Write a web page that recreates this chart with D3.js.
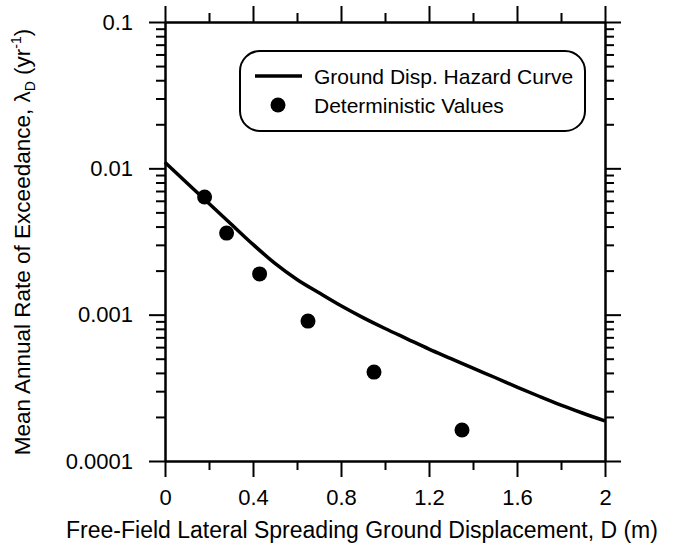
<!DOCTYPE html>
<html>
<head>
  <meta charset="utf-8">
  <script src="https://d3js.org/d3.v7.min.js"></script>
  <style>
    body { margin: 0; background: #fff; }
    text { font-family: "Liberation Sans", Arial, sans-serif; fill: #000; }
  </style>
</head>
<body>
  <svg id="chart" width="688" height="549"></svg>

  <script>
    // Hazard curve
    let curveD      = [0, 0.1, 0.2, 0.3, 0.4, 0.5, 0.6, 0.7, 0.8, 0.9, 1.0, 1.1, 1.2, 1.3, 1.4, 1.5, 1.6, 1.7, 1.8, 1.9, 2.0];
    let curveLambda = [0.0110, 0.00794, 0.00575, 0.00417, 0.00302, 0.00224, 0.00174, 0.00141, 0.00115, 0.000955,
                       0.000804, 0.000684, 0.000582, 0.000501, 0.000431, 0.000372, 0.000320, 0.000277, 0.000241, 0.000212, 0.000188];

    // Deterministic values
    let detD      = [0.18, 0.28, 0.43, 0.65, 0.95, 1.35];
    let detLambda = [0.00637, 0.00361, 0.0019, 0.000904, 0.000405, 0.000163];

    let xTicks = [0, 0.4, 0.8, 1.2, 1.6, 2];
    let xMinor = [0.2, 0.6, 1.0, 1.4, 1.8];
    let yTicks = [0.1, 0.01, 0.001, 0.0001];
    let yTickLabels = ["0.1", "0.01", "0.001", "0.0001"];

    let svg = d3.select("#chart");

    let x = d3.scaleLinear().domain([0, 2]).range([165, 605]);
    let y = d3.scaleLog().domain([0.0001, 0.1]).range([461, 22]);
    let yMinor = y.ticks().filter(v => !yTicks.some(t => Math.abs(t - v) / t < 1e-6));

    function styleAxis(g) {
      g.selectAll("path.domain").attr("stroke", "#000").attr("stroke-width", 2);
      g.selectAll(".tick line").attr("stroke", "#000").attr("stroke-width", 2);
      g.selectAll(".tick text").attr("font-size", 22).attr("fill", "#000")
        .attr("font-family", '"Liberation Sans", Arial, sans-serif');
    }

    // minor ticks first
    svg.append("g").attr("transform", "translate(0,461)")
      .call(d3.axisBottom(x).tickValues(xMinor).tickSize(9).tickSizeOuter(0).tickFormat(""))
      .call(styleAxis);
    svg.append("g").attr("transform", "translate(0,22)")
      .call(d3.axisTop(x).tickValues(xMinor).tickSize(9).tickSizeOuter(0).tickFormat(""))
      .call(styleAxis);
    svg.append("g").attr("transform", "translate(165,0)")
      .call(d3.axisLeft(y).tickValues(yMinor).tickSize(9).tickSizeOuter(0).tickFormat(""))
      .call(styleAxis);
    svg.append("g").attr("transform", "translate(605,0)")
      .call(d3.axisRight(y).tickValues(yMinor).tickSize(9).tickSizeOuter(0).tickFormat(""))
      .call(styleAxis);

    // major ticks
    svg.append("g").attr("transform", "translate(0,461)")
      .call(d3.axisBottom(x).tickValues(xTicks).tickSize(16).tickSizeOuter(0).tickPadding(12).tickFormat(d3.format("")))
      .call(styleAxis);
    svg.append("g").attr("transform", "translate(0,22)")
      .call(d3.axisTop(x).tickValues(xTicks).tickSize(16).tickSizeOuter(0).tickFormat(""))
      .call(styleAxis);
    svg.append("g").attr("transform", "translate(165,0)")
      .call(d3.axisLeft(y).tickValues(yTicks).tickSize(16).tickSizeOuter(0).tickPadding(16)
        .tickFormat((d, i) => yTickLabels[i]))
      .call(styleAxis);
    svg.append("g").attr("transform", "translate(605,0)")
      .call(d3.axisRight(y).tickValues(yTicks).tickSize(16).tickSizeOuter(0).tickFormat(""))
      .call(styleAxis);

    // hazard curve
    let line = d3.line()
      .x((d, i) => x(curveD[i]))
      .y((d, i) => y(curveLambda[i]))
      .curve(d3.curveMonotoneX);

    svg.append("path")
      .datum(curveD)
      .attr("d", line)
      .attr("fill", "none")
      .attr("stroke", "#000")
      .attr("stroke-width", 3.5);

    // deterministic points
    svg.selectAll(".dot").data(detD).join("circle")
      .attr("class", "dot")
      .attr("cx", d => x(d))
      .attr("cy", (d, i) => y(detLambda[i]))
      .attr("r", 7.5)
      .attr("fill", "#000");

    // legend
    let lg = svg.append("g");
    lg.append("rect")
      .attr("x", 240).attr("y", 51).attr("width", 345).attr("height", 80)
      .attr("rx", 20).attr("ry", 20)
      .attr("fill", "#fff").attr("stroke", "#000").attr("stroke-width", 2);
    lg.append("line")
      .attr("x1", 255).attr("x2", 302).attr("y1", 76).attr("y2", 76)
      .attr("stroke", "#000").attr("stroke-width", 3.5);
    lg.append("circle").attr("cx", 278).attr("cy", 105).attr("r", 7.5).attr("fill", "#000");
    lg.append("text").attr("x", 314).attr("y", 84).attr("font-size", 21).text("Ground Disp. Hazard Curve");
    lg.append("text").attr("x", 314).attr("y", 113).attr("font-size", 21).text("Deterministic Values");

    // axis titles
    svg.append("text")
      .attr("x", 362).attr("y", 538)
      .attr("text-anchor", "middle")
      .attr("font-size", 23)
      .text("Free-Field Lateral Spreading Ground Displacement, D (m)");

    let yt = svg.append("text")
      .attr("transform", "translate(30,242) rotate(-90)")
      .attr("text-anchor", "middle")
      .attr("font-size", 22.5);
    yt.append("tspan").text("Mean Annual Rate of Exceedance, \u03bb");
    yt.append("tspan").attr("font-size", 14).attr("baseline-shift", "-5").text("D");
    yt.append("tspan").text(" (yr");
    yt.append("tspan").attr("font-size", 14).attr("baseline-shift", "9").text("-1");
    yt.append("tspan").text(")");
  </script>
</body>
</html>
